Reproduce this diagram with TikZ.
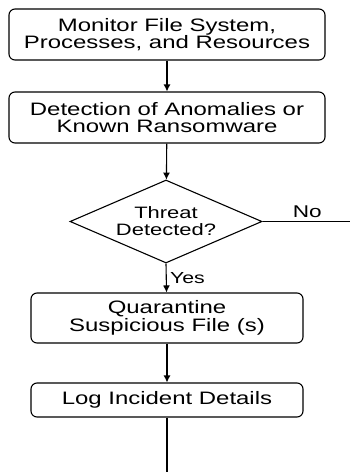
\documentclass[tikz,border=0pt]{standalone}
\usepackage{fontspec}
\setmainfont{Liberation Sans}[FakeStretch=1.33]
\usetikzlibrary{arrows.meta,shapes.geometric}

\begin{document}
\begin{tikzpicture}[x=1pt,y=-1pt,>={Latex[length=7pt,width=7pt]},line width=1.1pt,every node/.style={font=\fontsize{18}{17.5}\selectfont},stepbox/.style={draw,rounded corners=6pt,align=center,inner sep=0pt},flow/.style={->},choice/.style={draw,diamond,aspect=2.3,align=center,inner sep=0pt,minimum width=192pt,minimum height=83pt,font=\fontsize{16.5}{17}\selectfont}]
\useasboundingbox (0,0) rectangle (350,472);
\node[stepbox,minimum width=316pt,minimum height=51pt] (monitor) at (167,34.5) {Monitor File System,\\Processes, and Resources};
\node[stepbox,minimum width=316pt,minimum height=51pt] (detect) at (167,117.5) {Detection of Anomalies or\\Known Ransomware};
\node[choice] (threat) at (166,221.5) {Threat\\Detected?};
\node[stepbox,minimum width=272pt,minimum height=50pt] (quarantine) at (167,318) {Quarantine\\Suspicious File (s)};
\node[stepbox,minimum width=272pt,minimum height=34pt] (log) at (167,400) {Log Incident Details};
\coordinate (noend) at (352,221.5);\coordinate (logend) at (167,474);
\draw[flow] (monitor)--(detect);
\draw[flow] (detect)--(threat);
\draw (threat.east)--node[above,font=\fontsize{17}{17}\selectfont] {No}(noend);
\draw[flow] (threat.south)--node[right,font=\fontsize{16}{16}\selectfont] {Yes}(quarantine);
\draw[flow] (quarantine)--(log);
\draw (log)--(logend);
\end{tikzpicture}
\end{document}
